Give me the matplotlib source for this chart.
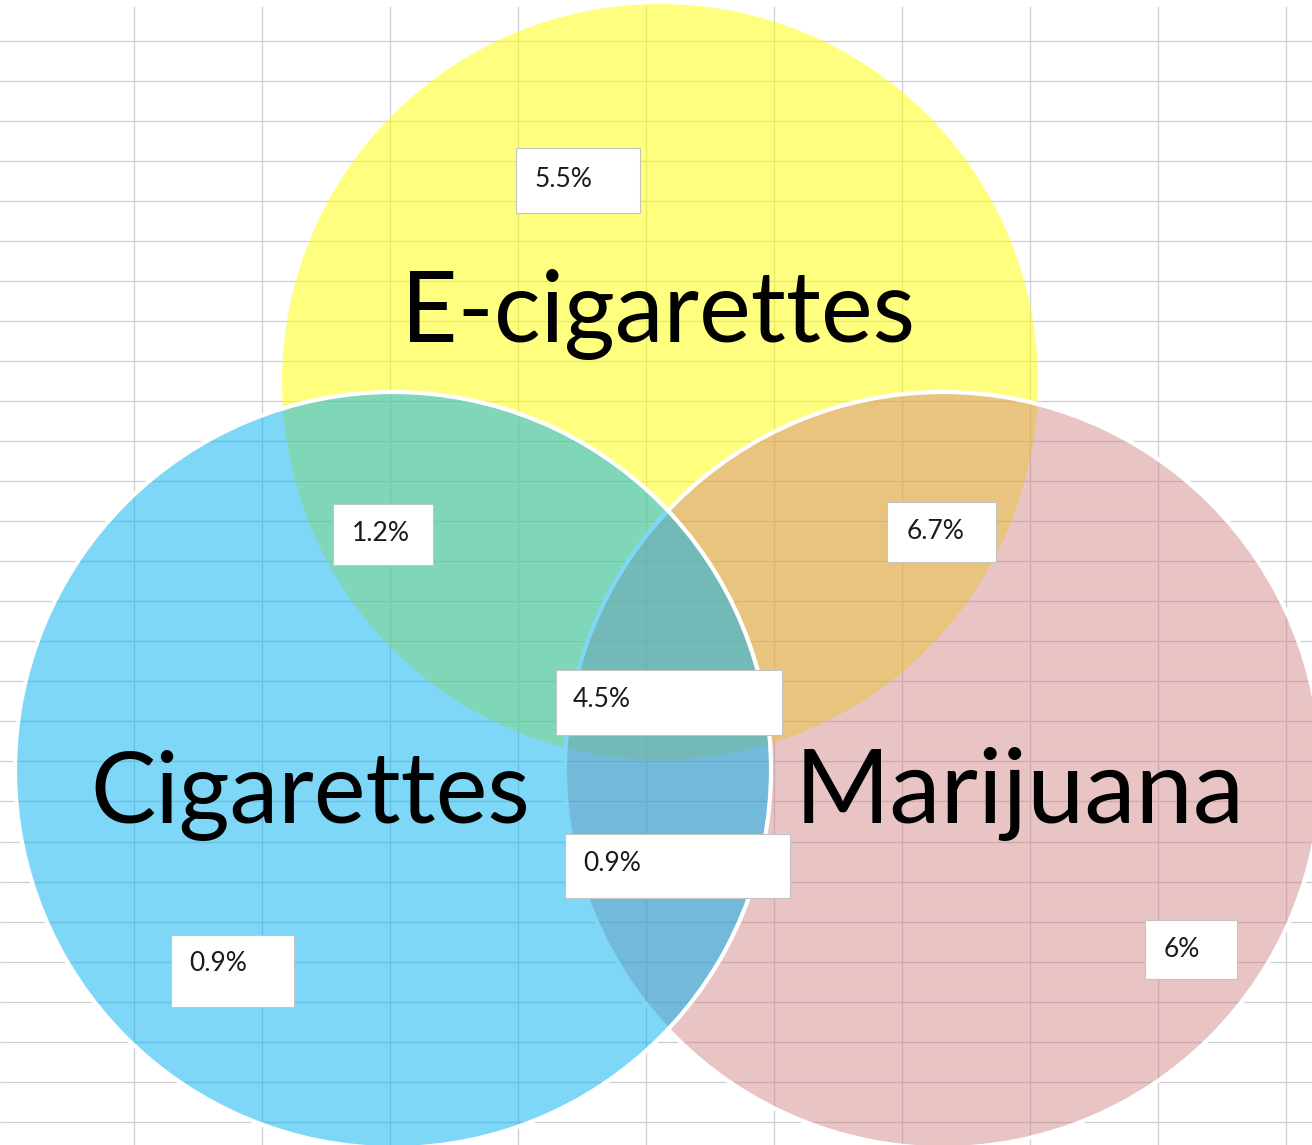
import matplotlib

matplotlib.use("Agg")
import matplotlib.pyplot as plt
from matplotlib.patches import Circle, Rectangle

# sets and the share of respondents in each region of the diagram
set_names = ["E-cigarettes", "Cigarettes", "Marijuana"]
region_names = ["E only", "E+C", "E+M", "E+C+M", "C+M", "C only", "M only"]
region_values = [5.5, 1.2, 6.7, 4.5, 0.9, 0.9, 6.0]

# canvas is laid out in pixel units, y growing downwards like the sheet
W, H = 1312, 1145
RADIUS = 378
circle_centers = {
    "E-cigarettes": (660, 382),
    "Cigarettes": (393, 770),
    "Marijuana": (943, 770),
}
circle_styles = {
    "E-cigarettes": dict(color="#FFFF00", alpha=0.5, edge="none", z=1),
    "Marijuana": dict(color="#CC7C80", alpha=0.45, edge="white", z=2),
    "Cigarettes": dict(color="#00B0F0", alpha=0.5, edge="white", z=3),
}
title_pos = {
    "E-cigarettes": (658, 342),
    "Cigarettes": (310, 823),
    "Marijuana": (1020, 823),
}
title_size = {"E-cigarettes": 70.5, "Cigarettes": 70.5, "Marijuana": 74}
# (box x0, y0, x1, y1, text x, text baseline)
label_boxes = {
    "E only": (516, 148, 640, 213, 535, 187),
    "E+C": (333, 504, 433, 565, 352, 541),
    "E+M": (887, 502, 996, 562, 907, 539),
    "E+C+M": (556, 670, 782, 735, 573, 707),
    "C+M": (565, 834, 790, 898, 583, 871),
    "C only": (171, 935, 294, 1007, 189, 971),
    "M only": (1145, 920, 1237, 979, 1164, 957),
}

plt.rcParams["font.family"] = ["Lato", "DejaVu Sans"]

fig = plt.figure(figsize=(W / 100, H / 100), dpi=100)
ax = fig.add_axes([0, 0, 1, 1])
ax.set_xlim(0, W)
ax.set_ylim(H, 0)
ax.axis("off")

# spreadsheet cell grid behind the diagram
col_lines = list(range(134, W, 128))
row_lines = [40.5 + 40.05 * k for k in range(int(H / 40) + 1)]
ax.vlines(col_lines, 6, H, colors="#CFCFD2", linewidth=0.9, zorder=0)
ax.hlines(row_lines, 0, W, colors="#CFCFD2", linewidth=0.9, zorder=0)

for name in set_names:
    st = circle_styles[name]
    r, g, b = matplotlib.colors.to_rgb(st["color"])
    ax.add_patch(
        Circle(
            circle_centers[name],
            RADIUS,
            facecolor=(r, g, b, st["alpha"]),
            edgecolor=st["edge"],
            linewidth=3.0 if st["edge"] != "none" else 0,
            zorder=st["z"],
        )
    )

for name in set_names:
    x, y = title_pos[name]
    ax.text(x, y, name, fontsize=title_size[name], ha="center", va="baseline",
            color="black", zorder=6)

for key, value in zip(region_names, region_values):
    x0, y0, x1, y1, tx, ty = label_boxes[key]
    ax.add_patch(
        Rectangle((x0, y0), x1 - x0, y1 - y0, facecolor="white",
                  edgecolor="#C4C4C4", linewidth=0.8, zorder=4)
    )
    ax.text(tx, ty, f"{value:g}%", fontsize=19, ha="left", va="baseline",
            color="#1a1a1a", zorder=5)

fig.savefig("out.png", dpi=100)
